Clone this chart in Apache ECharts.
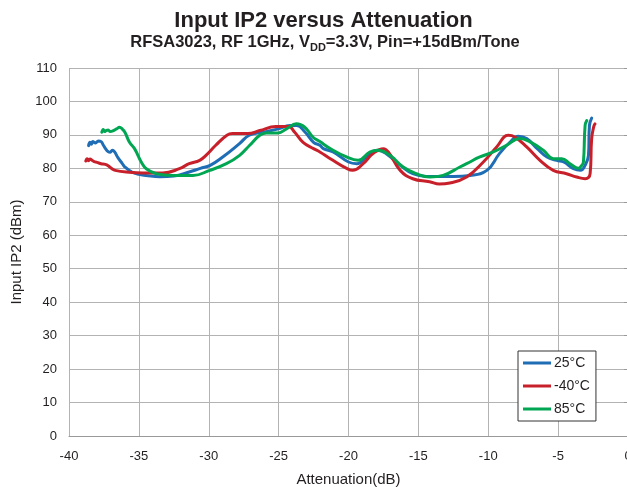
<!DOCTYPE html>
<html>
<head>
<meta charset="utf-8">
<script src="https://cdn.jsdelivr.net/npm/echarts@6/dist/echarts.min.js"></script>
<style>
html,body{margin:0;padding:0;background:#fff;}
#chart{width:627px;height:487px;}
</style>
</head>
<body>
<div id="chart"></div>
<script>
// ---- Data ----
const seriesNames = ['25°C', '-40°C', '85°C'];
const xTicks = [-40, -35, -30, -25, -20, -15, -10, -5, 0];
const yTicks = [0, 10, 20, 30, 40, 50, 60, 70, 80, 90, 100, 110];

const atten25 = [-38.6,-38.5,-38.4,-38.3,-38.1,-37.9,-37.7,-37.55,-37.4,-37.2,-37.05,-36.9,-36.75,-36.5,-36.2,-36.0,-35.5,-35.0,-34.5,-33.5,-32.5,-31.4,-30.6,-29.9,-29.0,-27.8,-27.1,-26.1,-25.0,-24.2,-23.7,-23.1,-22.5,-22.05,-21.8,-21.1,-20.0,-19.4,-18.7,-17.9,-17.3,-16.3,-15.4,-14.4,-12.5,-11.3,-10.1,-9.2,-8.45,-7.85,-7.25,-6.5,-5.8,-5.1,-4.6,-3.9,-3.4,-3.07,-2.83,-2.76,-2.6];
const ip2_25 = [86.8,87.8,87.2,88.0,87.6,88.2,88.0,87.0,86.0,85.0,84.8,85.4,85.0,83.2,81.5,80.4,78.9,78.2,77.9,77.5,77.7,78.9,80.0,80.9,83.4,87.4,89.9,90.8,91.8,92.8,92.8,90.8,87.8,86.9,85.9,84.9,81.9,81.4,83.4,85.4,84.4,80.9,78.4,77.6,77.6,77.9,79.4,84.4,87.8,89.6,88.9,85.9,83.4,82.4,81.9,79.9,79.4,80.9,83.9,92.8,95.0];

const attenM40 = [-38.8,-38.7,-38.6,-38.5,-38.35,-38.2,-38.0,-37.7,-37.4,-37.2,-36.9,-36.7,-35.9,-34.7,-33.3,-32.1,-31.4,-30.65,-30.2,-29.5,-28.7,-28.3,-27.2,-26.35,-25.2,-24.3,-23.85,-23.25,-22.5,-22.05,-21.3,-20.1,-19.7,-18.95,-18.25,-17.5,-17.15,-16.3,-15.4,-14.2,-13.5,-12.75,-11.55,-10.35,-9.4,-8.57,-8.1,-7.25,-6.3,-5.35,-4.4,-3.67,-3.07,-2.71,-2.6,-2.45,-2.36];
const ip2M40 = [82.2,82.9,82.3,82.8,82.4,82.0,81.8,81.4,81.2,80.8,79.8,79.4,78.9,78.6,78.6,79.9,81.4,82.4,83.9,86.9,89.9,90.4,90.4,91.3,92.5,92.5,90.8,87.8,85.9,84.9,82.9,79.9,79.4,81.4,84.4,85.9,84.9,79.4,76.9,76.0,75.3,75.6,77.4,81.9,86.4,89.9,89.4,86.4,82.4,79.4,78.4,77.4,76.9,78.4,88.9,92.5,93.3];

const atten85 = [-37.65,-37.55,-37.45,-37.34,-37.2,-37.05,-36.86,-36.6,-36.38,-36.2,-36.0,-35.67,-35.31,-34.83,-34.47,-33.75,-32.56,-31.13,-29.93,-28.74,-27.79,-27.07,-26.35,-25.87,-25.04,-24.44,-23.73,-23.13,-22.54,-22.05,-21.34,-20.14,-19.31,-18.48,-17.88,-17.04,-16.09,-15.14,-14.18,-13.23,-12.03,-11.55,-10.6,-9.64,-8.69,-7.73,-7.01,-6.06,-5.34,-4.74,-4.15,-3.55,-3.31,-3.19,-3.07,-2.95];
const ip2_85 = [90.8,91.6,91.0,91.3,91.5,91.0,91.2,91.8,92.3,91.8,90.8,87.8,85.9,81.9,79.9,78.4,77.9,77.9,79.4,81.4,83.9,86.9,89.9,90.6,90.6,91.8,93.3,92.3,89.3,88.0,86.0,83.4,82.4,84.9,85.4,83.9,80.4,78.4,77.4,77.9,80.4,81.4,83.4,84.9,86.9,88.9,87.9,85.4,82.9,82.9,81.4,80.0,80.9,81.9,92.8,94.3];

const colors = ['#1f6db5', '#c8202a', '#00a651'];

function pairs(xs, ys) { return xs.map((x, i) => [x, ys[i]]); }

const chart = echarts.init(document.getElementById('chart'), null, {renderer: 'canvas'});
const FONT = "'Liberation Sans', Arial, sans-serif";
const TXT = '#231f20';

const lineSeries = [
  {name: seriesNames[0], data: pairs(atten25, ip2_25)},
  {name: seriesNames[1], data: pairs(attenM40, ip2M40)},
  {name: seriesNames[2], data: pairs(atten85, ip2_85)}
].map((s, i) => ({
  name: s.name, type: 'line', data: s.data, showSymbol: false, symbol: 'none',
  smooth: 0.45,
  lineStyle: {color: colors[i], width: 3, join: 'round', cap: 'round'},
  itemStyle: {color: colors[i]},
  emphasis: {disabled: true}, animation: false
}));

chart.setOption({
  animation: false,
  color: colors,
  graphic: [
    {type: 'text', x: 323.5, y: 10, silent: true,
     style: {text: 'Input IP2 versus Attenuation', font: 'bold 22px ' + FONT, fill: TXT, textAlign: 'center', textVerticalAlign: 'top'}},
    {type: 'text', x: 325, y: 33.5, silent: true,
     style: {text: '{n|RFSA3023, RF 1GHz, V}{s|DD}{n|=3.3V, Pin=+15dBm/Tone}', textAlign: 'center', textVerticalAlign: 'top',
       rich: {
         n: {font: 'bold 16.5px ' + FONT, fill: TXT, lineHeight: 17, verticalAlign: 'top'},
         s: {font: 'bold 11px ' + FONT, fill: TXT, lineHeight: 11, verticalAlign: 'top', padding: [9, 0, 0, 0]}
       }}}
  ],
  legend: {
    data: seriesNames, orient: 'vertical', left: 518, top: 351,
    icon: 'rect', itemWidth: 28, itemHeight: 3, itemGap: 7,
    padding: [4, 6, 4, 5], backgroundColor: '#fff', borderColor: '#333', borderWidth: 1, borderRadius: 0,
    selectedMode: false,
    textStyle: {fontFamily: FONT, fontSize: 14, color: TXT, lineHeight: 16, padding: [0, 0, 0, -2]}
  },
  grid: {left: 69, right: -1, top: 68, bottom: 51, containLabel: false, outerBoundsMode: 'none'},
  xAxis: {
    type: 'value', min: xTicks[0], max: xTicks[xTicks.length - 1], interval: 5,
    name: 'Attenuation(dB)', nameLocation: 'middle', nameGap: 36,
    nameTextStyle: {fontFamily: FONT, fontSize: 15, color: TXT},
    axisLine: {show: true, lineStyle: {color: '#999', width: 1}},
    axisTick: {show: false},
    axisLabel: {fontFamily: FONT, fontSize: 13, color: TXT, margin: 14, showMaxLabel: true, showMinLabel: true, hideOverlap: false},
    splitLine: {show: true, lineStyle: {color: '#b3b3b3', width: 1}}
  },
  yAxis: {
    type: 'value', min: yTicks[0], max: yTicks[yTicks.length - 1], interval: 10,
    name: 'Input IP2 (dBm)', nameLocation: 'middle', nameGap: 40, nameRotate: 90,
    nameTextStyle: {fontFamily: FONT, fontSize: 15, color: TXT},
    axisLine: {show: true, lineStyle: {color: '#999', width: 1}},
    axisTick: {show: true, length: 4, inside: false, lineStyle: {color: '#999'}},
    axisLabel: {fontFamily: FONT, fontSize: 13, color: TXT, margin: 12},
    splitLine: {show: true, lineStyle: {color: '#b3b3b3', width: 1}}
  },
  series: lineSeries
});
</script>
</body>
</html>
